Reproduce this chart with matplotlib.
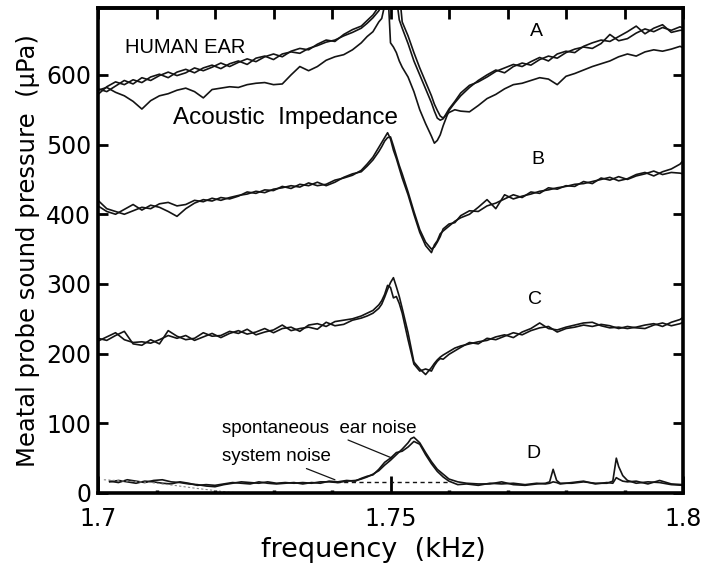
import numpy as np
import matplotlib
matplotlib.use("Agg")
import matplotlib.pyplot as plt
from matplotlib.ticker import MultipleLocator

# frequency grid (kHz) shared by traces A, B, C
freq = [1.7000, 1.7015, 1.7030, 1.7045, 1.7060, 1.7075, 1.7090, 1.7105, 1.7120, 1.7135,
        1.7150, 1.7165, 1.7180, 1.7195, 1.7210, 1.7225, 1.7240, 1.7255, 1.7270, 1.7285,
        1.7300, 1.7315, 1.7330, 1.7345, 1.7360, 1.7375, 1.7390, 1.7405, 1.7420, 1.7435,
        1.7450, 1.7460, 1.7470, 1.7480, 1.7485, 1.7490, 1.7495, 1.7500, 1.7505, 1.7510,
        1.7515, 1.7520, 1.7530, 1.7540, 1.7550, 1.7560, 1.7570, 1.7575, 1.7580, 1.7585,
        1.7590, 1.7600, 1.7610, 1.7620, 1.7635, 1.7650, 1.7665, 1.7680, 1.7695, 1.7710,
        1.7725, 1.7740, 1.7755, 1.7770, 1.7785, 1.7800, 1.7815, 1.7830, 1.7845, 1.7860,
        1.7875, 1.7890, 1.7905, 1.7920, 1.7935, 1.7950, 1.7965, 1.7980, 1.7995, 1.8000]

# trace A (three runs)
a1 = [572, 583, 590, 586, 593, 589, 597, 601, 596, 604,
      608, 603, 610, 614, 609, 616, 620, 615, 624, 627,
      622, 630, 633, 631, 638, 642, 647, 650, 656, 661,
      667, 674, 682, 692, 700, 730, 730, 646, 640, 632,
      620, 611, 597, 576, 550, 530, 512, 502, 506, 514,
      527, 549, 560, 570, 582, 592, 600, 607, 603, 612,
      617, 614, 622, 627, 624, 632, 637, 640, 638, 645,
      658, 649, 652, 660, 666, 662, 668, 664, 669, 667]
a2 = [580, 576, 584, 592, 587, 596, 592, 599, 604, 599,
      603, 610, 606, 611, 617, 612, 618, 623, 619, 626,
      630, 626, 634, 638, 636, 644, 650, 648, 658, 665,
      670, 678, 686, 698, 715, 730, 730, 730, 730, 712,
      679, 667, 645, 620, 600, 580, 560, 548, 538, 535,
      537, 551, 562, 574, 585, 590, 597, 605, 610, 615,
      612, 619, 625, 620, 630, 634, 632, 641, 646, 650,
      648, 655, 662, 670, 659, 667, 672, 661, 664, 664]
a3 = [578, 582, 575, 570, 562, 551, 563, 570, 573, 578,
      581, 576, 567, 579, 581, 583, 582, 586, 588, 589,
      586, 587, 600, 612, 606, 612, 621, 626, 629, 636,
      646, 655, 662, 676, 681, 700, 730, 730, 730, 730,
      720, 676, 656, 632, 610, 590, 570, 558, 549, 541,
      538, 546, 550, 548, 547, 556, 566, 572, 580, 586,
      588, 592, 596, 594, 586, 598, 602, 607, 612, 616,
      620, 626, 630, 627, 633, 636, 634, 637, 641, 639]

# trace B
b1 = [420, 408, 404, 400, 405, 410, 408, 415, 417, 412,
      414, 420, 418, 423, 420, 424, 427, 429, 433, 431,
      436, 438, 441, 439, 445, 441, 443, 449, 452, 456,
      463, 472, 482, 496, 503, 510, 517, 508, 492, 480,
      466, 452, 428, 400, 374, 355, 345, 356, 362, 372,
      376, 383, 390, 395, 400, 410, 421, 408, 428, 422,
      426, 429, 433, 435, 438, 440, 443, 444, 447, 450,
      453, 448, 451, 457, 460, 455, 461, 465, 472, 477]
b2 = [412, 404, 400, 407, 414, 406, 413, 410, 404, 397,
      408, 416, 421, 419, 424, 422, 426, 432, 430, 435,
      434, 440, 437, 443, 441, 446, 441, 446, 453, 458,
      461, 469, 478, 490, 497, 505, 510, 511, 498, 484,
      470, 458, 432, 404, 378, 360, 350, 353, 360, 368,
      379, 386, 388, 398, 405, 404, 412, 416, 422, 428,
      424, 432, 430, 438, 436, 441, 440, 447, 444, 452,
      449, 454, 450, 455, 458, 462, 457, 460, 459, 458]

# trace C
c1 = [222, 219, 226, 232, 214, 212, 220, 214, 233, 225,
      220, 222, 230, 225, 226, 232, 229, 235, 227, 231,
      234, 241, 233, 236, 238, 235, 245, 240, 242, 248,
      251, 254, 258, 265, 271, 281, 292, 302, 309, 296,
      282, 265, 230, 188, 178, 170, 180, 186, 191, 195,
      198, 203, 208, 211, 214, 217, 219, 224, 227, 223,
      231, 236, 244, 236, 234, 238, 241, 244, 245, 240,
      237, 238, 236, 238, 241, 243, 239, 245, 249, 252]
c2 = [218, 224, 230, 220, 216, 217, 215, 220, 226, 222,
      226, 219, 224, 229, 223, 229, 233, 228, 231, 236,
      230, 236, 238, 232, 241, 243, 239, 246, 248, 250,
      254, 258, 262, 270, 276, 285, 298, 295, 280, 282,
      272, 258, 220, 185, 175, 178, 175, 183, 189, 193,
      192, 199, 204, 209, 216, 214, 222, 220, 225, 230,
      227, 233, 237, 239, 231, 236, 238, 241, 239, 242,
      240, 236, 239, 237, 236, 241, 244, 240, 243, 245]

# trace D (spontaneous ear noise)
freq_d = [1.7020, 1.7035, 1.7050, 1.7065, 1.7080, 1.7095, 1.7110, 1.7125, 1.7140, 1.7155,
          1.7170, 1.7185, 1.7200, 1.7215, 1.7230, 1.7245, 1.7260, 1.7275, 1.7290, 1.7305,
          1.7320, 1.7335, 1.7350, 1.7365, 1.7380, 1.7395, 1.7410, 1.7425, 1.7440, 1.7450,
          1.7460, 1.7470, 1.7480, 1.7490, 1.7500, 1.7510, 1.7520, 1.7530, 1.7535, 1.7540,
          1.7550, 1.7560, 1.7570, 1.7580, 1.7590, 1.7600, 1.7615, 1.7630, 1.7650, 1.7670,
          1.7690, 1.7710, 1.7730, 1.7750, 1.7765, 1.7772, 1.7778, 1.7784, 1.7790, 1.7810,
          1.7830, 1.7850, 1.7870, 1.7880, 1.7886, 1.7890, 1.7897, 1.7905, 1.7920, 1.7940,
          1.7960, 1.7980, 1.8000]
d1 = [17, 15, 19, 17, 15, 18, 19, 16, 15, 13,
      12, 10, 9, 12, 14, 16, 15, 14, 16, 14,
      15, 14, 15, 14, 16, 16, 15, 17, 18, 20,
      23, 27, 32, 40, 47, 55, 63, 72, 78, 80,
      72, 58, 45, 34, 27, 20, 16, 14, 13, 13,
      16, 12, 11, 13, 14, 16, 34, 18, 14, 14,
      16, 14, 14, 17, 50, 38, 25, 18, 14, 16,
      15, 12, 11]
d2 = [16, 18, 16, 14, 17, 16, 14, 13, 16, 14,
      11, 12, 11, 13, 15, 14, 13, 16, 14, 13,
      14, 15, 13, 15, 14, 17, 16, 18, 17, 21,
      24, 26, 34, 44, 50, 58, 60, 66, 70, 74,
      70, 55, 42, 31, 23, 17, 12, 13, 11, 14,
      13, 14, 12, 14, 13, 14, 16, 15, 13, 15,
      17, 13, 15, 14, 22, 20, 17, 16, 17, 13,
      18, 13, 12]

# system noise floor
noise_f = [1.7406, 1.7602]
noise_p = [16, 16]
fade_f = [1.7010, 1.7050, 1.7090, 1.7130, 1.7165, 1.7195, 1.7225, 1.7250]
fade_p = [19, 17, 15, 11, 7, 4, 1, 0]

fig = plt.figure(figsize=(7.01, 5.63), dpi=100)
ax = fig.add_axes([98 / 701, 70 / 563, 585 / 701, 485 / 563])

lc = '#141414'
for y in (a1, a2, a3, b1, b2, c1, c2):
    ax.plot(freq, y, color=lc, lw=1.2)
ax.plot(freq_d, d1, color=lc, lw=1.2)
ax.plot(freq_d, d2, color=lc, lw=1.2)
ax.plot(noise_f, noise_p, color=lc, lw=1.0, ls=(0, (3, 2.5)))
ax.plot(fade_f, fade_p, color='#888888', lw=0.8, ls=(0, (2, 2)))

ax.set_xlim(1.7, 1.8)
ax.set_ylim(0, 696)
ax.set_xticks([1.7, 1.75, 1.8])
ax.set_xticklabels(['1.7', '1.75', '1.8'])
ax.xaxis.set_minor_locator(MultipleLocator(0.01))
ax.set_yticks(range(0, 700, 100))

for s in ax.spines.values():
    s.set_linewidth(2.6)

ax.tick_params(axis='x', which='major', direction='in', length=12, width=2,
               labelsize=17, pad=10)
ax.tick_params(axis='x', which='minor', direction='in', length=2.5, width=2.5)
ax.tick_params(axis='y', direction='in', length=7, width=2, right=True,
               labelsize=17, pad=5)

top = ax.secondary_xaxis('top')
top.xaxis.set_major_locator(MultipleLocator(0.01))
top.tick_params(direction='in', length=8, width=2, labeltop=False)
top.spines['top'].set_linewidth(2.6)

ax.set_xlabel('frequency  (kHz)', fontsize=19.5)
ax.xaxis.set_label_coords(0.47, -0.09)
ax.set_ylabel('Meatal probe sound pressure  (\u03bcPa)', fontsize=17.5, labelpad=4)

af = 'Liberation Sans'
ax.text(1.7046, 639, 'HUMAN EAR', fontsize=14.5, family=af, va='center')
ax.text(1.7128, 538, 'Acoustic  Impedance', fontsize=17.5, family=af, va='center')
for lab, (x, y) in zip('ABCD', [(1.7750, 662), (1.7752, 478), (1.7747, 277), (1.7744, 57)]):
    ax.text(x, y, lab, fontsize=14, family=af, ha='center', va='center')

ax.annotate('spontaneous  ear noise', xy=(1.7503, 50), xytext=(1.7212, 93),
            fontsize=13.5, family=af, va='center',
            arrowprops=dict(arrowstyle='-', color=lc, lw=0.9, shrinkA=1, shrinkB=0))
ax.annotate('system noise', xy=(1.7405, 19), xytext=(1.7212, 52),
            fontsize=13.5, family=af, va='center',
            arrowprops=dict(arrowstyle='-', color=lc, lw=0.9, shrinkA=1, shrinkB=0))

fig.savefig('out.png', dpi=100)
